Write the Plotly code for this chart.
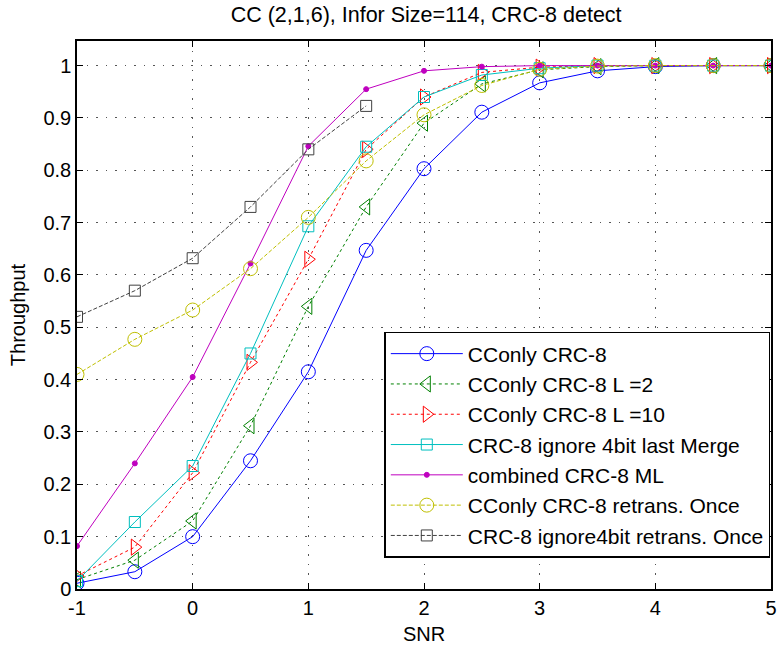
import plotly.graph_objects as go

snr = [-1, -0.5, 0, 0.5, 1, 1.5, 2, 2.5, 3, 3.5, 4, 4.5, 5]
x_ticks = [-1, 0, 1, 2, 3, 4, 5]
x_ticktext = ["-1", "0", "1", "2", "3", "4", "5"]
y_ticks = [0, 0.1, 0.2, 0.3, 0.4, 0.5, 0.6, 0.7, 0.8, 0.9, 1.0]
y_ticktext = ["0", "0.1", "0.2", "0.3", "0.4", "0.5", "0.6", "0.7", "0.8", "0.9", "1"]

cconly = [0.011, 0.033, 0.100, 0.245, 0.415, 0.647, 0.803, 0.911, 0.967, 0.990, 0.998, 1.0, 1.0]
cconly_l2 = [0.018, 0.055, 0.130, 0.312, 0.540, 0.730, 0.890, 0.965, 0.992, 0.998, 1.0, 1.0, 1.0]
cconly_l10 = [0.025, 0.080, 0.222, 0.433, 0.630, 0.840, 0.940, 0.987, 0.997, 1.0, 1.0, 1.0, 1.0]
ignore_merge = [0.015, 0.128, 0.235, 0.450, 0.693, 0.845, 0.940, 0.982, 0.995, 1.0, 1.0, 1.0, 1.0]
combined_ml = [0.082, 0.240, 0.405, 0.622, 0.846, 0.955, 0.990, 0.998, 1.0, 1.0, 1.0, 1.0, 1.0]
cconly_retrans = [0.410, 0.477, 0.533, 0.612, 0.710, 0.818, 0.906, 0.962, 0.993, 0.999, 1.0, 1.0, 1.0]
snr_short = [-1, -0.5, 0, 0.5, 1, 1.5]
ignore_retrans = [0.520, 0.570, 0.632, 0.730, 0.840, 0.923]

names = ["CConly CRC-8", "CConly CRC-8 L =2", "CConly CRC-8 L =10",
         "CRC-8 ignore 4bit last Merge", "combined CRC-8 ML",
         "CConly CRC-8 retrans. Once", "CRC-8 ignore4bit retrans. Once"]

series = [
    (snr, cconly, "#0000ff", "solid", "circle-open", 14),
    (snr, cconly_l2, "#008000", "dot", "triangle-left-open", 14),
    (snr, cconly_l10, "#ff0000", "dot", "triangle-right-open", 14),
    (snr, ignore_merge, "#00bfbf", "solid", "square-open", 11),
    (snr, combined_ml, "#bf00bf", "solid", "circle", 5),
    (snr, cconly_retrans, "#bfbf00", "4px,2px", "circle-open", 14),
    (snr_short, ignore_retrans, "#404040", "4px,2px", "square-open", 11),
]

fig = go.Figure()
for name, (xs, ys, col, dash, sym, sz) in zip(names, series):
    fig.add_trace(go.Scatter(
        x=xs, y=ys, name=name, mode="lines+markers",
        line=dict(color=col, width=1, dash=dash),
        marker=dict(symbol=sym, size=sz, color=col, line=dict(color=col, width=1)),
    ))

axis_common = dict(
    showline=True, linecolor="black", linewidth=1.5, mirror="ticks",
    ticks="inside", ticklen=6, tickcolor="black",
    showgrid=True, gridcolor="#555555", griddash="1.5px,8px", gridwidth=1,
    zeroline=False, tickfont=dict(size=20, color="black"), automargin=False,
)

fig.update_layout(
    width=779, height=645,
    margin=dict(l=77, r=8, t=41, b=56),
    paper_bgcolor="white", plot_bgcolor="white",
    font=dict(family="Liberation Sans, Arial, sans-serif", color="black"),
    title=dict(text="CC (2,1,6), Infor Size=114, CRC-8 detect", x=0.547, xanchor="center",
               y=0.978, yanchor="middle", font=dict(size=21.5, color="black")),
    xaxis=dict(range=[-1, 5], tickvals=x_ticks, ticktext=x_ticktext,
               title=dict(text="SNR", font=dict(size=20), standoff=11), **axis_common),
    yaxis=dict(range=[0, 1.047], tickvals=y_ticks, ticktext=y_ticktext,
               title=dict(text="Throughput", font=dict(size=20), standoff=12), **axis_common),
    legend=dict(x=0.999, y=0.469, xanchor="right", yanchor="top",
                bgcolor="white", bordercolor="black", borderwidth=1.5,
                font=dict(size=21, color="black"), tracegroupgap=0, itemwidth=72),
    showlegend=True,
)

fig.write_html("out.html", config={"displayModeBar": False},
               post_script="document.body.style.margin='0';document.body.style.padding='0';")
